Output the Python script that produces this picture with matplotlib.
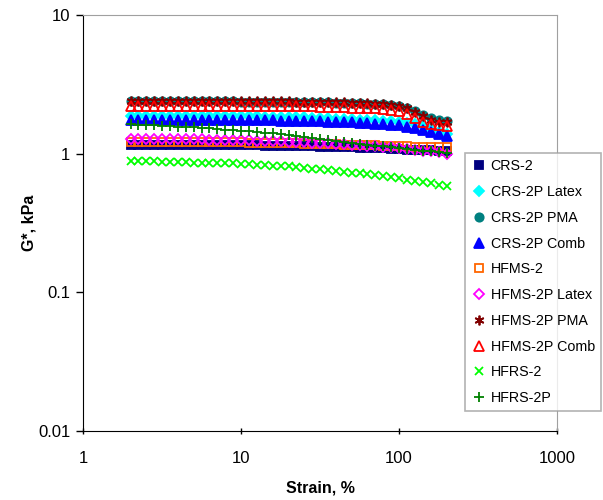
import numpy as np
import matplotlib.pyplot as plt
from matplotlib.ticker import FixedLocator, NullLocator

plt.rcParams['font.family'] = ['Liberation Sans', 'DejaVu Sans']

# strain sweep, %
strain = [2.00, 2.24, 2.52, 2.83, 3.17, 3.56, 3.99, 4.48, 5.02, 5.64, 6.32,
          7.10, 7.96, 8.93, 10.0, 11.2, 12.6, 14.2, 15.9, 17.8, 20.0, 22.4,
          25.2, 28.3, 31.7, 35.6, 39.9, 44.8, 50.2, 56.4, 63.2, 71.0, 79.6,
          89.3, 100, 112, 126, 142, 159, 178, 200]

# G*, kPa
crs2 = [1.15, 1.15, 1.15, 1.15, 1.15, 1.15, 1.15, 1.15, 1.15, 1.15, 1.15,
        1.15, 1.15, 1.15, 1.15, 1.15, 1.15, 1.14, 1.14, 1.14, 1.14, 1.13,
        1.13, 1.13, 1.12, 1.12, 1.12, 1.11, 1.11, 1.10, 1.10, 1.09, 1.09,
        1.08, 1.08, 1.07, 1.07, 1.06, 1.06, 1.05, 1.05]
crs2p_latex = [1.88, 1.88, 1.88, 1.88, 1.88, 1.88, 1.88, 1.88, 1.88, 1.88, 1.87,
               1.87, 1.87, 1.87, 1.86, 1.86, 1.86, 1.85, 1.85, 1.84, 1.84, 1.83,
               1.83, 1.82, 1.81, 1.80, 1.79, 1.78, 1.77, 1.76, 1.75, 1.74, 1.73,
               1.71, 1.69, 1.67, 1.64, 1.58, 1.51, 1.44, 1.38]
crs2p_pma = [2.38, 2.38, 2.38, 2.38, 2.38, 2.38, 2.38, 2.38, 2.38, 2.38, 2.38,
             2.38, 2.38, 2.38, 2.37, 2.37, 2.37, 2.37, 2.36, 2.36, 2.36, 2.35,
             2.35, 2.35, 2.34, 2.34, 2.33, 2.33, 2.32, 2.31, 2.30, 2.29, 2.28,
             2.26, 2.22, 2.15, 2.04, 1.90, 1.80, 1.74, 1.72]
crs2p_comb = [1.76, 1.76, 1.76, 1.76, 1.76, 1.76, 1.76, 1.76, 1.76, 1.76, 1.76,
              1.76, 1.76, 1.75, 1.75, 1.75, 1.74, 1.74, 1.74, 1.73, 1.73, 1.72,
              1.72, 1.71, 1.71, 1.70, 1.70, 1.69, 1.68, 1.67, 1.66, 1.65, 1.64,
              1.62, 1.60, 1.57, 1.53, 1.48, 1.43, 1.38, 1.33]
hfms2 = [1.22, 1.22, 1.22, 1.22, 1.22, 1.22, 1.22, 1.22, 1.22, 1.22, 1.21,
         1.21, 1.21, 1.21, 1.21, 1.20, 1.20, 1.20, 1.20, 1.19, 1.19, 1.19,
         1.18, 1.18, 1.18, 1.17, 1.17, 1.16, 1.16, 1.16, 1.15, 1.15, 1.14,
         1.14, 1.13, 1.13, 1.12, 1.12, 1.12, 1.11, 1.11]
hfms2p_latex = [1.28, 1.28, 1.28, 1.28, 1.28, 1.27, 1.27, 1.27, 1.27, 1.27, 1.26,
                1.26, 1.26, 1.25, 1.25, 1.25, 1.24, 1.24, 1.23, 1.23, 1.22, 1.22,
                1.21, 1.20, 1.19, 1.19, 1.18, 1.17, 1.16, 1.15, 1.14, 1.13, 1.12,
                1.11, 1.10, 1.08, 1.07, 1.05, 1.04, 1.02, 1.00]
hfms2p_pma = [2.40, 2.40, 2.40, 2.40, 2.40, 2.40, 2.40, 2.40, 2.40, 2.40, 2.40,
              2.40, 2.40, 2.40, 2.39, 2.39, 2.39, 2.39, 2.38, 2.38, 2.38, 2.37,
              2.37, 2.37, 2.36, 2.36, 2.35, 2.34, 2.33, 2.32, 2.31, 2.30, 2.28,
              2.25, 2.20, 2.12, 2.00, 1.86, 1.76, 1.70, 1.68]
hfms2p_comb = [2.22, 2.22, 2.22, 2.22, 2.22, 2.22, 2.22, 2.22, 2.22, 2.22, 2.22,
               2.22, 2.22, 2.22, 2.21, 2.21, 2.21, 2.21, 2.20, 2.20, 2.20, 2.19,
               2.19, 2.19, 2.18, 2.18, 2.17, 2.16, 2.15, 2.14, 2.13, 2.12, 2.10,
               2.07, 2.02, 1.94, 1.82, 1.70, 1.63, 1.60, 1.58]
hfrs2 = [0.88, 0.88, 0.88, 0.88, 0.87, 0.87, 0.87, 0.87, 0.86, 0.86, 0.86,
         0.85, 0.85, 0.85, 0.84, 0.84, 0.83, 0.83, 0.82, 0.81, 0.81, 0.80,
         0.79, 0.78, 0.77, 0.76, 0.75, 0.74, 0.73, 0.72, 0.71, 0.70, 0.69,
         0.68, 0.67, 0.65, 0.64, 0.62, 0.61, 0.59, 0.58]
hfrs2p = [1.63, 1.62, 1.61, 1.60, 1.59, 1.58, 1.57, 1.56, 1.55, 1.54, 1.52,
          1.51, 1.49, 1.48, 1.46, 1.45, 1.43, 1.41, 1.40, 1.38, 1.36, 1.34,
          1.32, 1.30, 1.28, 1.26, 1.24, 1.22, 1.20, 1.18, 1.16, 1.14, 1.13,
          1.11, 1.10, 1.08, 1.07, 1.05, 1.04, 1.02, 1.01]

series = [
    ("CRS-2", crs2, dict(marker='s', color='#000080', mfc='#000080', ms=5.5)),
    ("CRS-2P Latex", crs2p_latex, dict(marker='D', color='#00FFFF', mfc='#00FFFF', ms=5.5)),
    ("CRS-2P PMA", crs2p_pma, dict(marker='o', color='#008080', mfc='#008080')),
    ("CRS-2P Comb", crs2p_comb, dict(marker='^', color='#0000FF', mfc='#0000FF', ms=7)),
    ("HFMS-2", hfms2, dict(marker='s', color='#FF6600', mfc='none', ms=5.5)),
    ("HFMS-2P Latex", hfms2p_latex, dict(marker='D', color='#FF00FF', mfc='none', ms=5.5)),
    ("HFMS-2P PMA", hfms2p_pma, dict(marker=(6, 2, 0), color='#800000', ms=7)),
    ("HFMS-2P Comb", hfms2p_comb, dict(marker='^', color='#FF0000', mfc='none', ms=7)),
    ("HFRS-2", hfrs2, dict(marker='x', color='#00FF00', ms=6)),
    ("HFRS-2P", hfrs2p, dict(marker='+', color='#008000', ms=7)),
]

fig = plt.figure(figsize=(6.03, 5.0), dpi=100)
ax = fig.add_axes([0.1376, 0.138, 0.786, 0.832])

for name, vals, style in series:
    style.setdefault('ms', 6)
    ax.plot(strain, vals, linestyle='none', mew=1.3, label=name, **style)

ax.set_xscale('log')
ax.set_yscale('log')
ax.set_xlim(1, 1000)
ax.set_ylim(0.01, 10)
ax.xaxis.set_major_locator(FixedLocator([1, 10, 100, 1000]))
ax.yaxis.set_major_locator(FixedLocator([0.01, 0.1, 1, 10]))
ax.xaxis.set_minor_locator(NullLocator())
ax.yaxis.set_minor_locator(NullLocator())
ax.set_xticklabels(['1', '10', '100', '1000'])
ax.set_yticklabels(['0.01', '0.1', '1', '10'])
ax.tick_params(axis='both', labelsize=12, length=5, width=1)
ax.tick_params(axis='x', direction='inout', pad=12)
ax.tick_params(axis='y', direction='out', pad=4)

for side in ['top', 'right']:
    ax.spines[side].set_color('#a0a0a0')
for side in ['left', 'bottom']:
    ax.spines[side].set_color('black')

ax.set_xlabel('Strain, %', fontsize=11.5, fontweight='bold', labelpad=10)
ax.set_ylabel('G*, kPa', fontsize=11.5, fontweight='bold')
ax.yaxis.set_label_coords(-0.097, 0.5)

leg = fig.legend(loc='upper left', bbox_to_anchor=(0.771, 0.694), fontsize=10.3,
                 frameon=True, fancybox=False, edgecolor='#a0a0a0',
                 labelspacing=0.82, handletextpad=0.35, handlelength=1.0,
                 borderpad=0.45, borderaxespad=0)
leg.get_frame().set_linewidth(1.2)

fig.savefig('out.png', dpi=100)
